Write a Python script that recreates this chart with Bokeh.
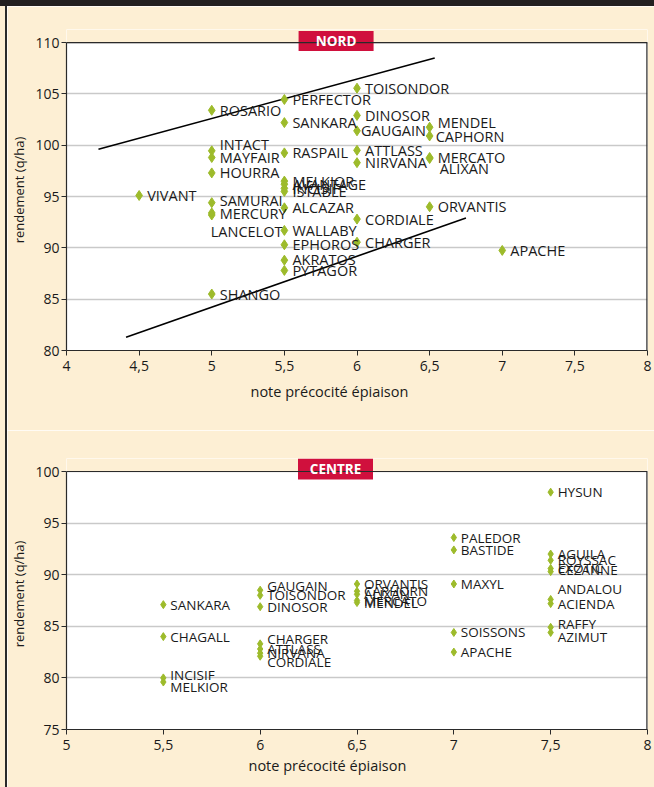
from bokeh.plotting import figure
from bokeh.models import Range1d, FixedTicker, Label, ColumnDataSource, BoxAnnotation, Span, Div, Title
from bokeh.layouts import column, row
from bokeh.core.properties import value
from bokeh.embed import file_html
from bokeh.resources import INLINE

# ---------------- data : NORD ----------------
nord_names = ["ROSARIO", "PERFECTOR", "TOISONDOR", "SANKARA", "DINOSOR", "GAUGAIN",
              "MENDEL", "CAPHORN", "INTACT", "MAYFAIR", "RASPAIL", "ATTLASS", "NIRVANA",
              "MERCATO", "ALIXAN", "HOURRA", "MELKIOR", "AVANTAGE", "INCISIF", "ISTABLE",
              "VIVANT", "SAMURAI", "MERCURY", "LANCELOT", "ALCAZAR", "ORVANTIS", "CORDIALE",
              "WALLABY", "EPHOROS", "CHARGER", "APACHE", "AKRATOS", "PYTAGOR", "SHANGO"]
nord_x = [5, 5.5, 6, 5.5, 6, 6,
          6.5, 6.5, 5, 5, 5.5, 6, 6,
          6.5, 6.5, 5, 5.5, 5.5, 5.5, 5.5,
          4.5, 5, 5, 5, 5.5, 6.5, 6,
          5.5, 5.5, 6, 7, 5.5, 5.5, 5]
nord_y = [103.4, 104.45, 105.55, 102.2, 102.9, 101.4,
          101.75, 100.9, 99.45, 98.8, 99.25, 99.5, 98.3,
          98.8, 98.7, 97.3, 96.5, 96.2, 95.8, 95.5,
          95.1, 94.4, 93.4, 93.2, 93.9, 94.0, 92.8,
          91.7, 90.3, 90.55, 89.75, 88.8, 87.8, 85.5]
nord_upper_x = [4.22, 6.535]
nord_upper_y = [99.6, 108.5]
nord_lower_x = [4.41, 6.75]
nord_lower_y = [81.3, 92.9]
nord_xticks = [4, 4.5, 5, 5.5, 6, 6.5, 7, 7.5, 8]
nord_xtick_labels = ["4", "4,5", "5", "5,5", "6", "6,5", "7", "7,5", "8"]
nord_yticks = [80, 85, 90, 95, 100, 105, 110]

# ---------------- data : CENTRE ----------------
centre_names = ["HYSUN", "PALEDOR", "BASTIDE", "AGUILA", "ROYSSAC", "EXOTIC", "CEZANNE",
                "MAXYL", "ANDALOU", "ACIENDA", "RAFFY", "AZIMUT", "SOISSONS", "APACHE",
                "ORVANTIS", "CAPHORN", "ALIXAN", "MERCATO", "MENDEL",
                "GAUGAIN", "TOISONDOR", "DINOSOR", "SANKARA", "CHAGALL",
                "CHARGER", "ATTLASS", "NIRVANA", "CORDIALE", "INCISIF", "MELKIOR"]
centre_x = [7.5, 7, 7, 7.5, 7.5, 7.5, 7.5,
            7, 7.5, 7.5, 7.5, 7.5, 7, 7,
            6.5, 6.5, 6.5, 6.5, 6.5,
            6, 6, 6, 5.5, 5.5,
            6, 6, 6, 6, 5.5, 5.5]
centre_y = [98.0, 93.6, 92.4, 92.0, 91.4, 90.6, 90.3,
            89.1, 87.6, 87.2, 84.9, 84.4, 84.4, 82.5,
            89.1, 88.4, 88.1, 87.5, 87.3,
            88.5, 88.0, 86.9, 87.1, 84.0,
            83.3, 82.8, 82.4, 82.1, 80.0, 79.6]
centre_xticks = [5, 5.5, 6, 6.5, 7, 7.5, 8]
centre_xtick_labels = ["5", "5,5", "6", "6,5", "7", "7,5", "8"]
centre_yticks = [75, 80, 85, 90, 95, 100]

X_TITLE = "note précocité épiaison"
Y_TITLE = "rendement (q/ha)"

# ---------------- styling ----------------
nord_label_dx = [8] * len(nord_names)
nord_label_dy = [0] * len(nord_names)
for nm, ddx, ddy in [("INTACT", 8, -6), ("ALIXAN", 10, 10), ("SAMURAI", 8, -2),
                     ("LANCELOT", -1, 17), ("GAUGAIN", 4, 0), ("MENDEL", 8, -5),
                     ("CAPHORN", 6, 1), ("MERCURY", 8, 1), ("AKRATOS", 8, -1)]:
    i = nord_names.index(nm)
    nord_label_dx[i] = ddx
    nord_label_dy[i] = ddy

centre_label_dx = [7] * len(centre_names)
centre_label_dy = [0] * len(centre_names)
for nm, ddy in [("ANDALOU", -10), ("RAFFY", -3), ("AZIMUT", 5), ("GAUGAIN", -4),
                ("CHARGER", -5), ("CORDIALE", 6), ("INCISIF", -3), ("MELKIOR", 5),
                ("EXOTIC", -1), ("CEZANNE", -2)]:
    centre_label_dy[centre_names.index(nm)] = ddy

CREAM = "#fdefd4"
GREEN = "#9dbb2b"
RED = "#d0103d"
FONT = "Open Sans"
TXT = "#1a1a1a"
LINE = "#2a2a2a"
DARK = "#231f20"
FW = 647


def make_fig(h, xr, ytop, yr, xticks, xlabels, yticks, mb_left, mb_right, mb_top, mb_bottom,
             xt_offset, xt_standoff):
    p = figure(width=FW, height=h, x_range=Range1d(*xr), y_range=Range1d(yr[0], ytop),
               output_backend="svg", toolbar_location=None,
               min_border_left=mb_left, min_border_right=mb_right,
               min_border_top=mb_top, min_border_bottom=mb_bottom)
    p.background_fill_color = "white"
    p.border_fill_color = CREAM
    p.outline_line_color = None
    p.xgrid.visible = False
    p.ygrid.grid_line_color = "#c9c9c9"
    p.ygrid.grid_line_width = 1.5
    p.ygrid.ticker = FixedTicker(ticks=yticks)
    p.xaxis.ticker = FixedTicker(ticks=xticks)
    p.xaxis.major_label_overrides = {t: l for t, l in zip(xticks, xlabels)}
    p.yaxis.ticker = FixedTicker(ticks=yticks)
    p.yaxis.bounds = (yr[0], yr[1])
    for ax in (p.xaxis[0], p.yaxis[0]):
        ax.axis_line_color = LINE
        ax.axis_line_width = 1.2
        ax.major_tick_line_color = LINE
        ax.major_tick_in = 0
        ax.major_tick_out = 5
        ax.minor_tick_line_color = None
        ax.major_label_text_font = FONT
        ax.major_label_text_font_size = "14px"
        ax.major_label_text_color = TXT
        ax.major_label_standoff = 2
    p.xaxis.major_label_standoff = 5
    p.yaxis.axis_label = Y_TITLE
    p.yaxis.axis_label_text_font = FONT
    p.yaxis.axis_label_text_font_size = "13px"
    p.yaxis.axis_label_text_font_style = "normal"
    p.yaxis.axis_label_text_color = TXT
    p.yaxis.axis_label_standoff = 4
    # x title below the axis, left of the frame centre as in the original
    p.add_layout(Title(text=X_TITLE, align="left", offset=xt_offset, standoff=xt_standoff,
                       text_font=FONT, text_font_size="14.5px", text_font_style="normal",
                       text_color=TXT), "below")
    # cream strip above the top of the value range, frame border lines
    p.add_layout(BoxAnnotation(bottom=yr[1], fill_color=CREAM, fill_alpha=1,
                               line_color=None, level="underlay"))
    p.add_layout(Span(location=yr[1], dimension="width", line_color=LINE, line_width=1.2))
    p.segment(x0=[xr[1]], y0=[yr[0]], x1=[xr[1]], y1=[yr[1]], line_color=LINE, line_width=2.4)
    return p


def badge(p, x, y, text, w, h):
    p.rect(x=[x], y=[y], width=w, height=h, width_units="screen", height_units="screen",
           fill_color=RED, line_color=None)
    p.add_layout(Label(x=x, y=y, text=text, text_font=FONT, text_font_size="13.5px",
                       text_font_style="bold", text_color="white", text_align="center",
                       text_baseline="middle"))


# ---- NORD ----
p1 = make_fig(424, (4, 8), 111.27, (80, 110), nord_xticks, nord_xtick_labels, nord_yticks,
              56, 6, 23, 80, 184, 12)
p1.line(nord_upper_x, nord_upper_y, line_color="black", line_width=1.6)
p1.line(nord_lower_x, nord_lower_y, line_color="black", line_width=1.6)
src1 = ColumnDataSource(dict(x=nord_x, y=nord_y, name=nord_names, dx=nord_label_dx, dy=nord_label_dy))
p1.scatter("x", "y", source=src1, marker="diamond", size=10, fill_color=GREEN, line_color=GREEN)
p1.text("x", "y", text="name", source=src1, x_offset="dx", y_offset="dy",
        text_font=value(FONT), text_font_size="14.5px", text_color=TXT,
        text_baseline="middle", text_align="left")
badge(p1, 5.856, 110.15, "NORD", 75, 20)

# ---- CENTRE ----
p2 = make_fig(357, (5, 8), 101.26, (75, 100), centre_xticks, centre_xtick_labels, centre_yticks,
              58, 7, 28, 58, 182, 2)
src2 = ColumnDataSource(dict(x=centre_x, y=centre_y, name=centre_names, dx=centre_label_dx, dy=centre_label_dy))
p2.scatter("x", "y", source=src2, marker="diamond", size=8, fill_color=GREEN, line_color=GREEN)
p2.text("x", "y", text="name", source=src2, x_offset="dx", y_offset="dy",
        text_font=value(FONT), text_font_size="13.5px", text_color=TXT,
        text_baseline="middle", text_align="left")
badge(p2, 6.389, 100.24, "CENTRE", 75, 21)

bar = Div(width=654, height=6, margin=0, styles={"background-color": DARK})
left_pad = Div(width=5, height=781, margin=0, styles={"background-color": CREAM})
left_line = Div(width=2, height=781, margin=0, styles={"background-color": LINE})
charts = column(p1, p2, spacing=0)
layout = column(bar, row(left_pad, left_line, charts, spacing=0), spacing=0)

open("out.html", "w").write(file_html(layout, INLINE))
